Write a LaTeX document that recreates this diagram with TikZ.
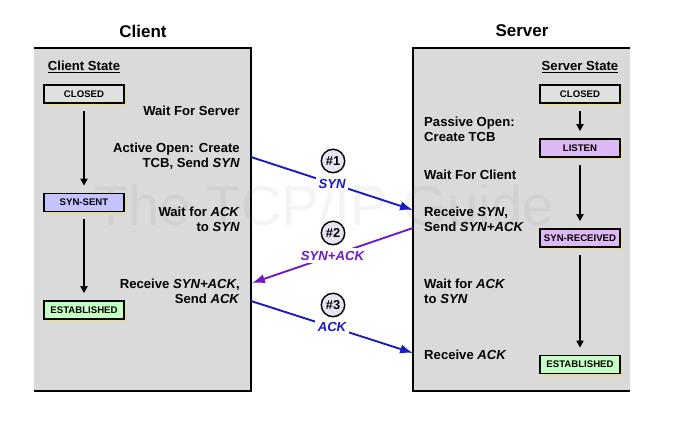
\documentclass[tikz,border=0pt]{standalone}
\usepackage{fontspec}
\setmainfont{Liberation Sans}
\usepackage{xcolor}
\usetikzlibrary{positioning,arrows.meta,shadows}

\definecolor{panelgray}{RGB}{218,218,218}
\definecolor{closedgray}{RGB}{224,224,224}
\definecolor{sentblue}{RGB}{196,196,255}
\definecolor{listenviolet}{RGB}{220,184,244}
\definecolor{estgreen}{RGB}{196,255,196}
\definecolor{shadowtan}{RGB}{228,218,176}
\definecolor{synblue}{RGB}{24,24,196}
\definecolor{ackpurple}{RGB}{112,24,200}
\definecolor{circlefill}{RGB}{232,228,244}

\begin{document}
\begin{tikzpicture}[x=0.03cm, y=-0.03cm,
    state/.style={draw, line width=1.4pt, minimum width=2.4cm, minimum height=0.54cm, inner sep=0pt,
        font=\fontsize{8.2}{9}\selectfont\bfseries,
        drop shadow={shadow xshift=2.8pt, shadow yshift=-2.8pt, fill=shadowtan, opacity=1}},
    txt/.style={inner xsep=0pt, font=\fontsize{11.2}{12.8}\selectfont\bfseries},
    flow/.style={-{Triangle[length=6pt,width=6pt]}, line width=1.5pt, shorten <=6pt, shorten >=6pt},
    msg/.style={-{Latex[length=11pt,width=8pt]}, line width=1.6pt},
    msglabel/.style={fill=white, inner sep=2.5pt, font=\fontsize{11.2}{12}\selectfont\bfseries\itshape},
    num/.style={circle, draw, line width=1.2pt, fill=circlefill, minimum size=20pt, inner sep=0pt,
        font=\fontsize{11}{12}\selectfont\bfseries},
    panelline/.style={line width=2.5pt}
]
    \useasboundingbox (0,0) rectangle (689,433);

    % Panels
    \fill[panelgray] (34,48) rectangle (251,391);
    \draw[panelline] (34,48) -- (251,48) -- (251,391) -- (34,391);
    \fill[panelgray] (413,48) rectangle (630,391);
    \draw[panelline] (630,48) -- (413,48) -- (413,391) -- (630,391);

    % Watermark
    \node[text=gray, opacity=0.09, font=\fontsize{48}{48}\selectfont] (mark) at (324,205) {The TCP/IP Guide};

    \node[font=\fontsize{14.5}{16}\selectfont\bfseries] (clienttitle) at (143,31) {Client};
    \node[font=\fontsize{14.5}{16}\selectfont\bfseries] (servertitle) at (522,31) {Server};

    % Client states
    \node[txt] (cstate) at (84,67) {\underline{Client State}};
    \node[state, fill=closedgray] (cclosed) at (84,94) {CLOSED};
    \node[state, fill=sentblue] (csent) at (84,202.5) {SYN-SENT};
    \node[state, fill=estgreen] (cest) at (84,310) {ESTABLISHED};
    \draw[flow] (cclosed) -- (csent);
    \draw[flow] (csent) -- (cest);

    % Server states
    \node[txt] (sstate) at (580,67) {\underline{Server State}};
    \node[state, fill=closedgray] (sclosed) at (580,94) {CLOSED};
    \node[state, fill=listenviolet] (slisten) at (580,148) {LISTEN};
    \node[state, fill=listenviolet] (srcvd) at (580,238) {SYN-RECEIVED};
    \node[state, fill=estgreen] (sest) at (580,364.5) {ESTABLISHED};
    \draw[flow] (sclosed) -- (slisten);
    \draw[flow] (slisten) -- (srcvd);
    \draw[flow] (srcvd) -- (sest);

    % Client actions
    \node[txt, anchor=east, align=right] (cwait) at (240,111) {Wait For Server};
    \node[txt, anchor=east, align=right] (copen) at (240,156.5) {Active Open: Create\\TCB, Send \textit{SYN}};
    \node[txt, anchor=east, align=right] (cwaitack) at (240,219.5) {Wait for \textit{ACK}\\to \textit{SYN}};
    \node[txt, anchor=east, align=right] (crecv) at (240,291.5) {Receive \textit{SYN+ACK},\\Send \textit{ACK}};

    % Server actions
    \node[txt, anchor=west, align=left] (sopen) at (424,129.5) {Passive Open:\\Create TCB};
    \node[txt, anchor=west, align=left] (swait) at (424,175) {Wait For Client};
    \node[txt, anchor=west, align=left] (srecv) at (424,219.5) {Receive \textit{SYN},\\Send \textit{SYN+ACK}};
    \node[txt, anchor=west, align=left] (swaitack) at (424,291.5) {Wait for \textit{ACK}\\to \textit{SYN}};
    \node[txt, anchor=west, align=left] (srecvack) at (424,355) {Receive \textit{ACK}};

    % Handshake messages
    \coordinate (c1) at (251,157);
    \coordinate (s1) at (413,210);
    \coordinate (s2) at (413,228);
    \coordinate (c2) at (252,283);
    \coordinate (c3) at (251,301);
    \coordinate (s3) at (413,353);

    \draw[msg, synblue] (c1) -- node[msglabel, text=synblue] (synlbl) {SYN} (s1);
    \draw[msg, ackpurple] (s2) -- node[msglabel, text=ackpurple] (synacklbl) {SYN+ACK} (c2);
    \draw[msg, synblue] (c3) -- node[msglabel, text=synblue] (acklbl) {ACK} (s3);

    \node[num] (n1) at (333,161) {\#1};
    \node[num] (n2) at (333,233) {\#2};
    \node[num] (n3) at (333,305) {\#3};
\end{tikzpicture}
\end{document}
